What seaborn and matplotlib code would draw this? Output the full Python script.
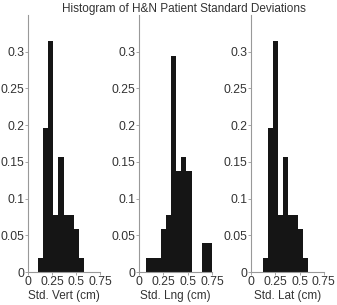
import numpy as np
import pandas as pd
import seaborn as sns
import matplotlib
matplotlib.use("Agg")
import matplotlib.pyplot as plt

# relative frequencies (n = 51 patients)
vert_edges = [0.11, 0.162, 0.214, 0.266, 0.318, 0.37, 0.422, 0.474, 0.526, 0.578]
vert_freq = [0.0196, 0.196, 0.314, 0.078, 0.157, 0.078, 0.078, 0.059, 0.0196]

lng_edges = [0.066, 0.119, 0.171, 0.224, 0.277, 0.329, 0.382, 0.434, 0.487, 0.540,
             0.592, 0.645, 0.697, 0.750]
lng_freq = [0.0196, 0.0196, 0.0196, 0.059, 0.078, 0.294, 0.137, 0.157, 0.137,
            0.0, 0.0, 0.039, 0.039]

lat_edges = [0.119, 0.171, 0.223, 0.275, 0.327, 0.379, 0.431, 0.483, 0.535, 0.587]
lat_freq = [0.0196, 0.196, 0.314, 0.078, 0.157, 0.078, 0.078, 0.059, 0.0196]

xlabels = ["Std. Vert (cm)", "Std. Lng (cm)", "Std. Lat (cm)"]
xticks = [0, 0.25, 0.5, 0.75]
xticklabels = ["0", "0.25", "0.5", "0.75"]
yticks = [0, 0.05, 0.1, 0.15, 0.2, 0.25, 0.3]
yticklabels = ["0", "0.05", "0.1", "0.15", "0.2", "0.25", "0.3"]

sns.set_style("white")
plt.rcParams['font.family'] = ['Liberation Sans', 'DejaVu Sans']

fig = plt.figure(figsize=(3.37, 3.05), dpi=100)
lefts = [0.082, 0.413, 0.745]
panels = [(vert_edges, vert_freq), (lng_edges, lng_freq), (lat_edges, lat_freq)]

for left, (edges, freq), lab in zip(lefts, panels, xlabels):
    ax = fig.add_axes([left, 0.108, 0.216, 0.843])
    centers = [(a + b) / 2 for a, b in zip(edges[:-1], edges[1:])]
    df = pd.DataFrame({"x": centers, "w": freq})
    sns.histplot(data=df, x="x", weights="w", bins=edges, ax=ax,
                 color="#151515", alpha=1, linewidth=0)
    ax.set_xlim(0, 0.75)
    ax.set_ylim(0, 0.35)
    ax.set_xticks(xticks)
    ax.set_xticklabels(xticklabels)
    ax.set_yticks(yticks)
    ax.set_yticklabels(yticklabels)
    ax.set_xlabel(lab, fontsize=8.5, color="#333333", labelpad=2)
    ax.set_ylabel("")
    for s in ["top", "right"]:
        ax.spines[s].set_visible(False)
    for s in ["left", "bottom"]:
        ax.spines[s].set_color("#999999")
        ax.spines[s].set_linewidth(0.8)
    ax.tick_params(axis="both", direction="out", length=2, width=0.6,
                   bottom=True, left=True,
                   color="#999999", labelsize=8.8, labelcolor="#333333", pad=0.5)

fig.text(0.545, 0.972, "Histogram of H&N Patient Standard Deviations",
         ha="center", va="center", fontsize=8.5, color="#333333")

fig.savefig("out.png", dpi=100)
